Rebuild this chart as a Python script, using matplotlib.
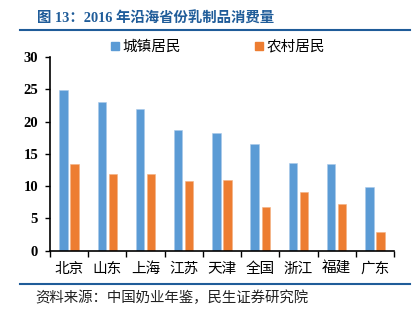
import matplotlib
matplotlib.use("Agg")
import matplotlib.pyplot as plt
import numpy as np
from matplotlib.lines import Line2D

plt.rcParams['font.family'] = ['Liberation Serif', 'Noto Sans CJK SC', 'DejaVu Sans']

provinces = ["北京", "山东", "上海", "江苏", "天津", "全国", "浙江", "福建", "广东"]
urban = [24.9, 23.0, 22.0, 18.7, 18.3, 16.5, 13.6, 13.5, 9.8]
rural = [13.4, 11.9, 11.8, 10.8, 10.9, 6.7, 9.1, 7.3, 2.9]
series_names = ["城镇居民", "农村居民"]
yticks = [0, 5, 10, 15, 20, 25, 30]

blue = "#5B9BD5"
orange = "#ED7D31"
navy = "#1F5C99"

fig = plt.figure(figsize=(4.2, 3.23), dpi=100)
ax = fig.add_axes([0.119, 0.224, 0.819, 0.5995])

x = np.arange(len(provinces))
w = 0.22
off = 0.145
ax.bar(x - off, urban, w, color=blue, edgecolor="#A9C9EA", linewidth=0.4, label=series_names[0])
ax.bar(x + off, rural, w, color=orange, edgecolor="#F4B183", linewidth=0.4, label=series_names[1])

ax.set_xlim(-0.5, len(provinces) - 0.5)
ax.set_ylim(0, 30)
ax.set_yticks(yticks)
ax.set_yticklabels([str(v) for v in yticks], fontsize=10.5, fontweight="bold",
                   family=['Liberation Serif'])
ax.set_xticks(x)
ax.set_xticklabels(provinces, fontsize=10.5, family=['Noto Sans CJK SC'])
ax.set_xticks(np.arange(len(provinces) + 1) - 0.5, minor=True)
ax.tick_params(axis="x", which="major", length=0, pad=8)
ax.tick_params(axis="x", which="minor", length=4, width=1.0, direction="out")
ax.tick_params(axis="y", length=3.5, width=1.0, direction="out", pad=5)

for s in ["top", "right"]:
    ax.spines[s].set_visible(False)
for s in ["left", "bottom"]:
    ax.spines[s].set_linewidth(1.2)
    ax.spines[s].set_color("black")

handles = [Line2D([], [], marker="s", linestyle="none", markersize=5.5, color=blue),
           Line2D([], [], marker="s", linestyle="none", markersize=5.5, color=orange)]
fig.legend(handles, series_names, loc="center left", bbox_to_anchor=(0.228, 0.855),
           ncol=2, frameon=False, handletextpad=0.1, columnspacing=5.0,
           handlelength=0.8, prop={'family': ['Noto Sans CJK SC'], 'size': 10.5})

fig.text(0.088, 0.942, "图 13：2016 年沿海省份乳制品消费量", fontsize=10.4,
         fontweight="bold", color=navy, va="center", ha="left",
         family=['Liberation Serif', 'Noto Sans CJK SC'])
fig.add_artist(Line2D([0.048, 0.976], [0.907, 0.907], color=navy, linewidth=1.5,
                      transform=fig.transFigure))
fig.add_artist(Line2D([0.048, 0.976], [0.122, 0.122], color=navy, linewidth=1.5,
                      transform=fig.transFigure))
fig.text(0.083, 0.077, "资料来源：中国奶业年鉴，民生证券研究院", fontsize=10.4,
         color="#222222", va="center", ha="left", family=['Noto Sans CJK SC'])

fig.savefig("out.png", dpi=100)
